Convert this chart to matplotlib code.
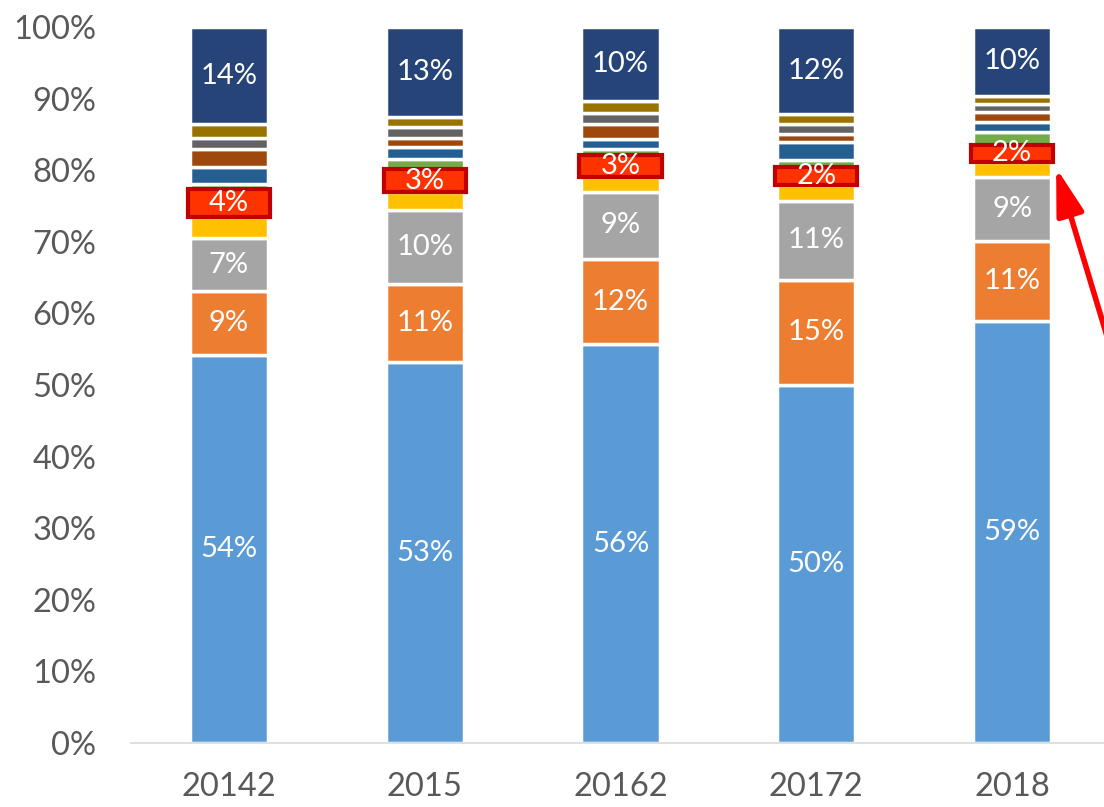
## Stacked share chart, 2014-2018
import numpy as np
import matplotlib.pyplot as plt

## Data (percent of total, bottom to top)
years = ['20142', '2015', '20162', '20172', '2018']
blue = [54.2, 53.2, 55.7, 50.0, 58.9]
orange = [8.9, 10.9, 11.9, 14.7, 11.2]
gray = [7.4, 10.3, 9.4, 11.0, 9.0]
yellow = [2.9, 2.5, 2.1, 2.3, 2.1]
red = [4.0, 3.3, 3.0, 2.4, 2.3]
green = [0.7, 1.4, 0.8, 1.0, 1.8]
dkblue = [2.4, 1.7, 1.5, 2.5, 1.4]
brown = [2.4, 1.2, 2.0, 1.2, 1.4]
dgray = [1.6, 1.6, 1.6, 1.4, 1.2]
olive = [1.9, 1.3, 1.7, 1.3, 1.1]
navy = [13.6, 12.6, 10.3, 12.2, 9.6]

series = [blue, orange, gray, yellow, red, green, dkblue, brown, dgray, olive, navy]
colors = ['#5B9BD5', '#ED7D31', '#A5A5A5', '#FFC000', '#FF3300', '#70AD47',
    '#255E91', '#9E480E', '#636363', '#997300', '#264478']
# which series get a value label
labelled = [0, 1, 2, 4, 10]
red_idx = 4

plt.rcParams['font.family'] = ['Lato', 'DejaVu Sans']
fig = plt.figure(figsize=(11.04, 8.07), dpi=100)
ax = fig.add_axes([0.1187, 0.0793, 0.8867, 0.8872])

x = np.arange(len(years))
bottom = np.zeros(len(years))
for i, (vals, col) in enumerate(zip(series, colors)):
    vals = np.array(vals)
    if i == red_idx:
        ax.bar(x, vals, 0.42, bottom=bottom, color=col, edgecolor='#C00000',
            linewidth=3, zorder=4)
    else:
        ax.bar(x, vals, 0.40, bottom=bottom, color=col, edgecolor='white',
            linewidth=2.5, zorder=2)
    if i in labelled:
        for xi, v, b in zip(x, vals, bottom):
            ax.text(xi, b + v / 2, '%d%%' % round(v), ha='center', va='center',
                color='white', fontsize=21, zorder=5)
    if i == red_idx:
        red_mid = bottom + vals / 2
    bottom = bottom + vals

## Red arrow pointing at the last highlighted segment
ax.annotate('', xy=(4.225, red_mid[-1] - 2.0), xytext=(4.56, 50),
    arrowprops=dict(arrowstyle='-|>,head_width=0.28,head_length=0.95',
        color='#FF0000', lw=4, mutation_scale=30, shrinkA=0, shrinkB=0),
    annotation_clip=False, zorder=6)

ax.set_xlim(-0.5, 4.5)
ax.set_ylim(0, 100)
ax.set_xticks(x)
ax.set_xticklabels(years)
ax.set_yticks(np.arange(0, 101, 10))
ax.set_yticklabels(['%d%%' % v for v in range(0, 101, 10)])
ax.tick_params(axis='both', length=0, labelsize=23.5, labelcolor='#595959')
ax.tick_params(axis='y', pad=25)
ax.tick_params(axis='x', pad=21)
for s in ['top', 'right', 'left']:
    ax.spines[s].set_visible(False)
ax.spines['bottom'].set_color('#D9D9D9')
ax.spines['bottom'].set_linewidth(1.2)

fig.savefig('out.png', dpi=100)
